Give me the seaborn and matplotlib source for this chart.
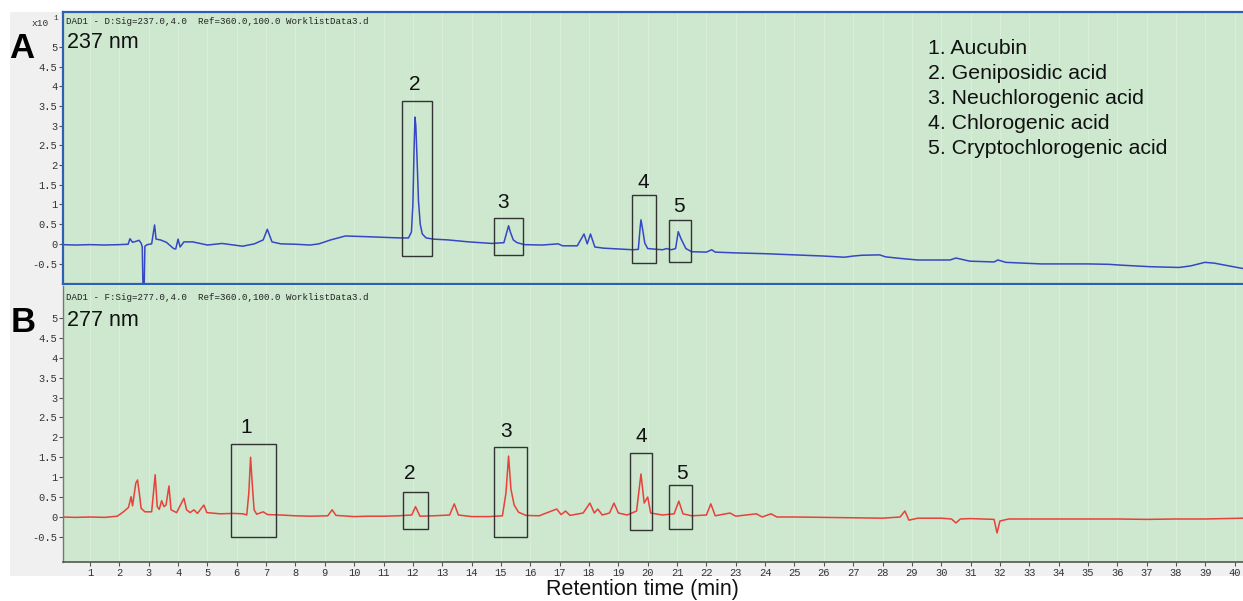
import numpy as np
import pandas as pd
import matplotlib
matplotlib.use("Agg")
import matplotlib.pyplot as plt
import seaborn as sns
from matplotlib.patches import Rectangle

# ---------------- data ----------------
time_a = [0.05, 0.5, 1.0, 1.5, 2.0, 2.3, 2.36, 2.45, 2.55, 2.67, 2.74, 2.78, 2.81, 2.84, 2.87,
          2.95, 3.1, 3.2, 3.25, 3.4, 3.6, 3.85, 3.92, 4.0, 4.07, 4.2, 4.5, 5.0, 5.5, 6.2,
          6.6, 6.9, 7.04, 7.2, 7.5, 8.0, 8.5, 8.8, 9.2, 9.7, 10.5, 11.2, 11.6, 11.85, 11.95,
          12.0, 12.04, 12.07, 12.1, 12.14, 12.19, 12.25, 12.32, 12.45, 12.7, 13.2, 13.9, 14.7,
          15.1, 15.2, 15.26, 15.32, 15.42, 15.55, 15.8, 16.4, 16.95, 17.1, 17.6, 17.83, 17.94,
          18.05, 18.2, 18.5, 19.0, 19.5, 19.68, 19.74, 19.77, 19.82, 19.9, 20.0, 20.5, 20.65,
          20.8, 20.95, 21.04, 21.14, 21.3, 21.5, 22.0, 22.18, 22.3, 23.0, 24.0, 25.0, 26.0, 26.7,
          27.0, 27.3, 27.9, 28.1, 28.6, 29.2, 30.3, 30.5, 30.97, 31.8, 31.93, 32.2, 32.8, 33.4,
          35.0, 35.7, 36.1, 37.1, 38.1, 38.5, 38.98, 39.3, 39.8, 40.3]
sig_a = [-0.02, -0.03, -0.02, -0.03, -0.02, -0.01, 0.13, 0.04, 0.06, 0.09, 0.02, -0.08, -1.3, -1.3, -0.06,
         -0.02, 0.0, 0.48, 0.12, 0.10, 0.04, -0.12, -0.13, 0.12, -0.08, 0.05, 0.05, -0.03, 0.01, -0.06,
         0.0, 0.10, 0.37, 0.05, 0.0, -0.01, -0.03, 0.0, 0.10, 0.20, 0.18, 0.16, 0.15, 0.15, 0.3,
         1.0, 2.4, 3.22, 3.0, 2.2, 1.1, 0.5, 0.25, 0.15, 0.12, 0.10, 0.05, 0.01,
         0.03, 0.3, 0.46, 0.3, 0.1, 0.03, -0.02, -0.03, 0.0, -0.05, -0.05, 0.25, 0.0,
         0.25, -0.08, -0.11, -0.13, -0.15, -0.14, 0.4, 0.61, 0.4, 0.02, -0.12, -0.15, -0.12,
         -0.15, -0.12, 0.31, 0.12, -0.12, -0.20, -0.21, -0.15, -0.21, -0.23, -0.25, -0.28, -0.31, -0.34,
         -0.31, -0.29, -0.28, -0.33, -0.37, -0.41, -0.41, -0.36, -0.44, -0.46, -0.41, -0.47, -0.49, -0.51,
         -0.51, -0.52, -0.54, -0.58, -0.60, -0.56, -0.47, -0.49, -0.56, -0.63]

time_b = [0.05, 0.5, 1.0, 1.5, 1.93, 2.14, 2.31, 2.4, 2.45, 2.56, 2.62, 2.68, 2.74, 2.87, 3.1,
          3.22, 3.29, 3.36, 3.44, 3.52, 3.59, 3.69, 3.76, 3.95, 4.2, 4.29, 4.41, 4.54, 4.66, 4.88,
          4.98, 5.43, 5.88, 6.22, 6.34, 6.41, 6.47, 6.53, 6.59, 6.68, 6.9, 7.05, 7.5, 8.0, 8.5,
          9.1, 9.25, 9.38, 10.0, 10.5, 11.0, 11.5, 11.96, 12.09, 12.24, 12.7, 13.25, 13.41, 13.55,
          14.0, 14.6, 15.05, 15.17, 15.26, 15.34, 15.45, 15.6, 15.85, 16.3, 16.9, 17.05, 17.2,
          17.35, 17.8, 18.03, 18.18, 18.3, 18.45, 18.7, 18.85, 19.0, 19.3, 19.62, 19.77, 19.88,
          20.0, 20.1, 20.5, 20.9, 21.06, 21.2, 21.5, 22.0, 22.15, 22.3, 22.8, 23.0, 23.7, 23.9,
          24.2, 24.4, 25.0, 26.0, 27.0, 28.0, 28.6, 28.76, 28.9, 29.2, 30.0, 30.35, 30.5, 30.65,
          31.0, 31.8, 31.9, 32.0, 32.3, 33.0, 34.0, 35.0, 36.0, 37.0, 38.0, 39.0, 40.3]
sig_b = [0.0, -0.01, 0.0, -0.01, 0.02, 0.13, 0.24, 0.51, 0.28, 0.85, 0.93, 0.6, 0.22, 0.13, 0.13,
         1.06, 0.26, 0.19, 0.41, 0.26, 0.30, 0.78, 0.18, 0.11, 0.47, 0.18, 0.11, 0.18, 0.09, 0.30,
         0.11, 0.08, 0.09, 0.08, 0.05, 0.6, 1.5, 0.8, 0.18, 0.07, 0.13, 0.06, 0.05, 0.03, 0.02,
         0.03, 0.18, 0.04, 0.01, 0.02, 0.02, 0.03, 0.05, 0.26, 0.02, 0.03, 0.05, 0.33, 0.05,
         0.01, 0.01, 0.03, 0.6, 1.53, 0.7, 0.30, 0.12, 0.04, 0.03, 0.20, 0.06, 0.15,
         0.04, 0.10, 0.35, 0.10, 0.20, 0.05, 0.10, 0.35, 0.10, 0.05, 0.15, 1.08, 0.35,
         0.50, 0.10, 0.05, 0.08, 0.40, 0.08, 0.03, 0.05, 0.33, 0.03, 0.10, 0.02, 0.08, 0.0,
         0.08, 0.0, 0.0, -0.01, -0.02, -0.03, 0.0, 0.15, -0.08, -0.03, -0.03, -0.05, -0.15, -0.05,
         -0.04, -0.06, -0.40, -0.10, -0.05, -0.05, -0.05, -0.05, -0.05, -0.06, -0.05, -0.05, -0.03]

# peak windows: (t_start, t_end, v_low, v_high), label, label position
boxes_a = [(11.62, 12.66, -0.30, 3.63), (14.76, 15.74, -0.28, 0.65),
           (19.47, 20.27, -0.49, 1.24), (20.72, 21.46, -0.47, 0.61)]
labels_a = ["2", "3", "4", "5"]
label_pos_a = [(12.05, 4.04), (15.07, 1.04), (19.84, 1.57), (21.06, 0.94)]

boxes_b = [(5.79, 7.34, -0.49, 1.83), (11.67, 12.52, -0.31, 0.62), (14.76, 15.88, -0.50, 1.76),
           (19.39, 20.14, -0.33, 1.61), (20.72, 21.50, -0.30, 0.80)]
labels_b = ["1", "2", "3", "4", "5"]
label_pos_b = [(6.32, 2.24), (11.90, 1.10), (15.17, 2.14), (19.77, 2.01), (21.16, 1.08)]

compounds = ["1. Aucubin", "2. Geniposidic acid", "3. Neuchlorogenic acid",
             "4. Chlorogenic acid", "5. Cryptochlorogenic acid"]
x_ticks = list(range(1, 41))
y_ticks = [-0.5, 0, 0.5, 1, 1.5, 2, 2.5, 3, 3.5, 4, 4.5, 5]

# ---------------- figure ----------------
sns.set_theme(style="white")
plt.rcParams['font.family'] = ['Liberation Sans', 'DejaVu Sans']
W, H = 1243, 601

def fx(px):
    return px / W

def fy(py):
    return (H - py) / H

fig = plt.figure(figsize=(W / 100, H / 100), dpi=100)
fig.patch.set_facecolor('white')
fig.patches.append(Rectangle((fx(10), fy(576)), fx(1243) - fx(10), fy(12) - fy(576),
                             transform=fig.transFigure, facecolor='#f0f0f0',
                             edgecolor='none', zorder=-10))

axA = fig.add_axes([fx(63), fy(284), 1 - fx(63), fy(12) - fy(284)])
axB = fig.add_axes([fx(63), fy(562), 1 - fx(63), fy(286) - fy(562)])

green = '#cde8cf'
mono = 'Liberation Mono'

dfa = pd.DataFrame({'t': time_a, 'v': sig_a})
dfb = pd.DataFrame({'t': time_b, 'v': sig_b})

for ax, df, col, ylim in [(axA, dfa, '#3547c4', (-1.02, 5.89)), (axB, dfb, '#e8403a', (-1.13, 5.80))]:
    ax.set_facecolor(green)
    ax.set_xticks(x_ticks)
    ax.grid(axis='x', color='#d8eed9', lw=0.8)
    ax.grid(axis='y', visible=False)
    sns.lineplot(data=df, x='t', y='v', ax=ax, color=col, lw=1.1, estimator=None, sort=False)
    ax.set_xlim(0.08, 40.28)
    ax.set_ylim(*ylim)
    ax.set_yticks(y_ticks)
    ax.set_yticklabels(['%g' % v for v in y_ticks], fontfamily=mono, fontsize=7.5, color='#333333')
    ax.tick_params(axis='y', direction='out', length=3, width=0.8, color='#555555', pad=1, left=True)
    ax.set_xlabel('')
    ax.set_ylabel('')

# panel A styling
axA.tick_params(axis='x', length=0, labelbottom=False)
for s in ['left', 'top', 'bottom']:
    axA.spines[s].set_color('#2f5fb0')
    axA.spines[s].set_linewidth(1.6)
axA.spines['right'].set_visible(False)

# panel B styling
axB.spines['top'].set_visible(False)
axB.spines['right'].set_visible(False)
axB.spines['left'].set_color('#777777')
axB.spines['left'].set_linewidth(1.0)
axB.spines['bottom'].set_color('#555555')
axB.spines['bottom'].set_linewidth(1.2)
axB.set_xticklabels([str(t) for t in x_ticks], fontfamily=mono, fontsize=7.5, color='#333333')
axB.tick_params(axis='x', direction='out', length=3, width=0.8, color='#555555', pad=1, bottom=True)

# peak boxes and labels
for ax, boxes, labels, lpos in [(axA, boxes_a, labels_a, label_pos_a), (axB, boxes_b, labels_b, label_pos_b)]:
    for (t0, t1, v0, v1) in boxes:
        ax.add_patch(Rectangle((t0, v0), t1 - t0, v1 - v0, fill=False, edgecolor='#333333', lw=1.0, zorder=5))
    for lab, (tx, ty) in zip(labels, lpos):
        ax.text(tx, ty, lab, fontsize=15, ha='center', va='center', color='#111111')

# header texts
fig.text(fx(66), fy(22), 'DAD1 - D:Sig=237.0,4.0  Ref=360.0,100.0 WorklistData3.d',
         fontfamily=mono, fontsize=6.6, va='center', ha='left', color='#222222')
fig.text(fx(66), fy(298), 'DAD1 - F:Sig=277.0,4.0  Ref=360.0,100.0 WorklistData3.d',
         fontfamily=mono, fontsize=6.6, va='center', ha='left', color='#222222')
fig.text(fx(32), fy(23), 'x10', fontfamily=mono, fontsize=6.8, va='center', ha='left', color='#333333')
fig.text(fx(53), fy(19), '1', fontfamily=mono, fontsize=5.5, va='center', ha='left', color='#333333')

fig.text(fx(67), fy(43), '237 nm', fontsize=15.5, va='center', ha='left', color='#111111')
fig.text(fx(67), fy(321), '277 nm', fontsize=15.5, va='center', ha='left', color='#111111')

fig.text(fx(9), fy(49), 'A', fontsize=25, fontweight='bold', va='center', ha='left', color='#000000')
fig.text(fx(11), fy(323), 'B', fontsize=25, fontweight='bold', va='center', ha='left', color='#000000')

for i, c in enumerate(compounds):
    fig.text(fx(928), fy(48 + 25.2 * i), c, fontsize=15.3, va='center', ha='left', color='#111111')

fig.text(fx(642), fy(590), 'Retention time (min)', fontsize=15.5, va='center', ha='center', color='#111111')

fig.savefig('out.png', dpi=100, facecolor=fig.get_facecolor())
